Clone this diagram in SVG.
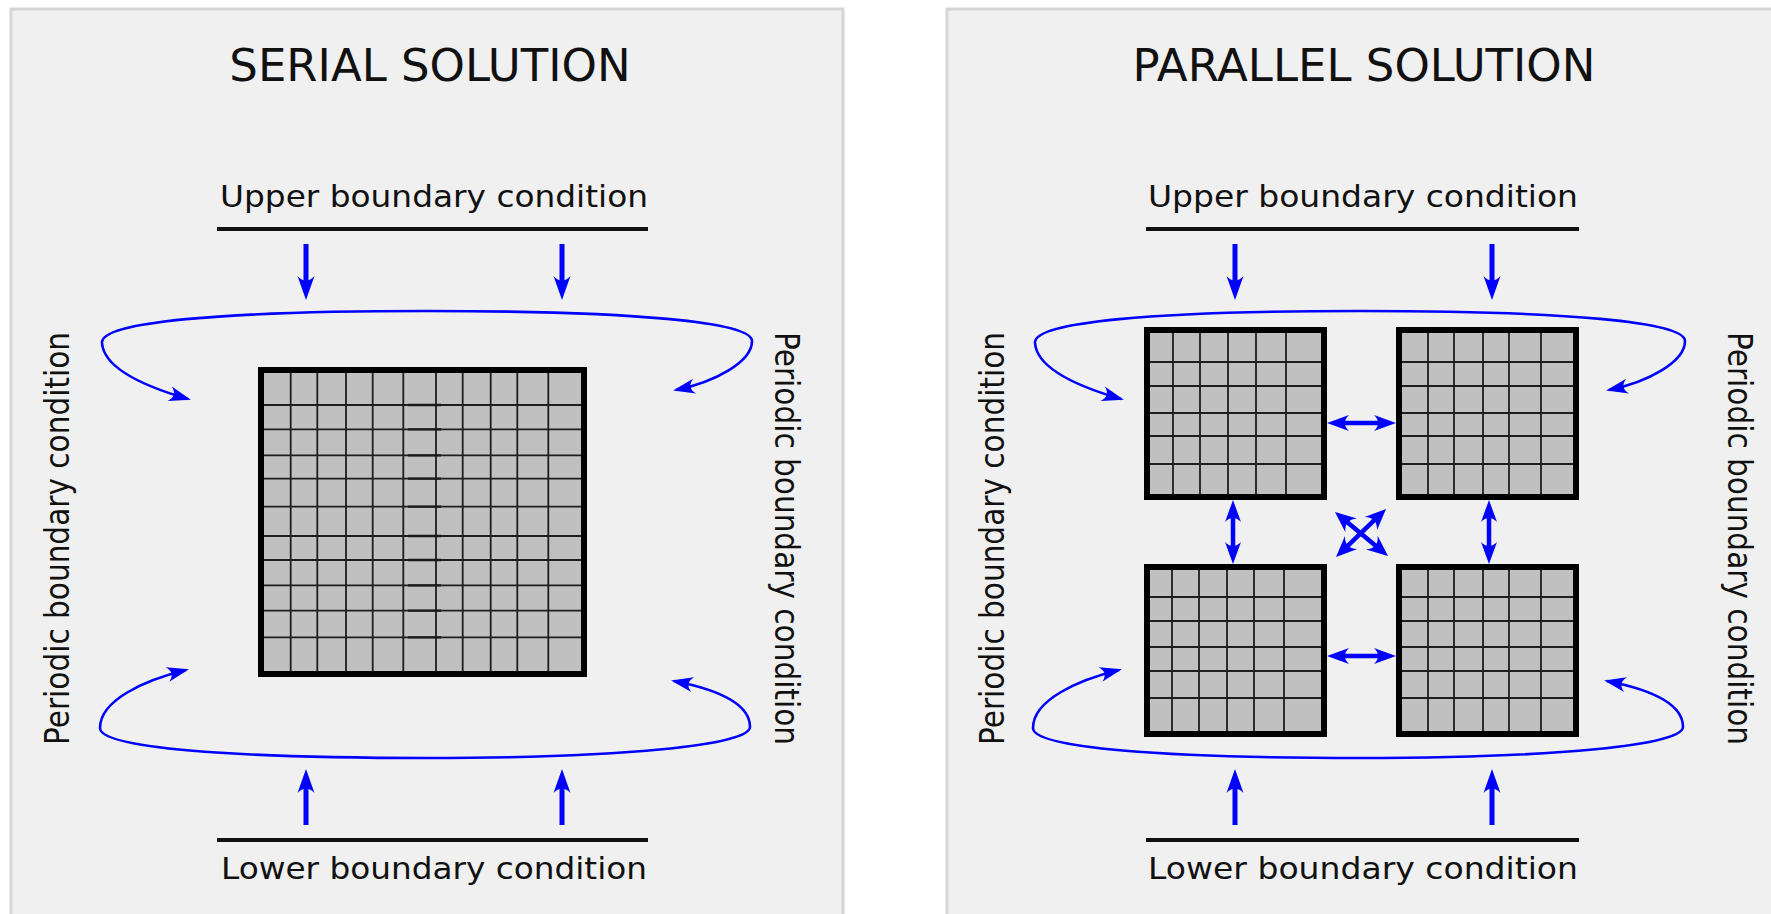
<svg xmlns="http://www.w3.org/2000/svg" width="1771" height="914" viewBox="0 0 1771 914">
<style>
.panel{fill:#f0f0f0;stroke:#d6d6d6;stroke-width:3}
.title{font-family:"DejaVu Sans",sans-serif;font-size:45px;fill:#111;text-anchor:middle}
.label{font-family:"DejaVu Sans",sans-serif;font-size:30px;fill:#111;text-anchor:middle}
.side{font-family:"DejaVu Sans",sans-serif;font-size:33px;fill:#111;text-anchor:middle}
.bar{stroke:#111;stroke-width:4;fill:none}
.cell{fill:#c0c0c0;stroke:#000;stroke-width:6}
.gl{stroke:#1e1e1e;stroke-width:1.8;fill:none}
.dash{stroke:#1a1a1a;stroke-width:2.3;fill:none}
.thick{stroke:#0000ff;stroke-width:5;fill:none;marker-end:url(#ahT)}
.curve{stroke:#0000ff;stroke-width:2.6;fill:none;marker-start:url(#ahC);marker-end:url(#ahC)}
.dbl{stroke:#0000ff;stroke-width:4.5;fill:none;marker-start:url(#ahD);marker-end:url(#ahD)}
.xdbl{stroke:#0000ff;stroke-width:4.5;fill:none;marker-start:url(#ahX);marker-end:url(#ahX)}
</style>
<defs>
<marker id="ahT" markerUnits="userSpaceOnUse" orient="auto-start-reverse" refX="-10" refY="0" markerWidth="30" markerHeight="30" overflow="visible"><path d="M0,0 L-24,-8.5 C-18,-3 -18,3 -24,8.5 Z" fill="#0000ff"/></marker>
<marker id="ahC" markerUnits="userSpaceOnUse" orient="auto-start-reverse" refX="-3" refY="0" markerWidth="30" markerHeight="30" overflow="visible"><path d="M0,0 L-22,-7.5 C-16.5,-2.5 -16.5,2.5 -22,7.5 Z" fill="#0000ff"/></marker>
<marker id="ahD" markerUnits="userSpaceOnUse" orient="auto-start-reverse" refX="-10" refY="0" markerWidth="30" markerHeight="30" overflow="visible"><path d="M0,0 L-22,-8 C-16.5,-3 -16.5,3 -22,8 Z" fill="#0000ff"/></marker>
<marker id="ahX" markerUnits="userSpaceOnUse" orient="auto-start-reverse" refX="-9" refY="0" markerWidth="30" markerHeight="30" overflow="visible"><path d="M0,0 L-21,-9 C-15,-3 -15,3 -21,9 Z" fill="#0000ff"/></marker>
</defs>
<rect x="0" y="0" width="1771" height="914" fill="#ffffff"/>

<g id="serial-panel">
<rect class="panel" x="11" y="9" width="832" height="920"/>
<text class="title" x="430" y="81">SERIAL SOLUTION</text>
</g>
<g id="parallel-panel">
<rect class="panel" x="947" y="9" width="832" height="920"/>
<text class="title" x="1364" y="81">PARALLEL SOLUTION</text>
</g>

<g id="serial-upper">
<text class="label" x="434" y="207" textLength="428" lengthAdjust="spacingAndGlyphs">Upper boundary condition</text>
<path class="bar" d="M217,229 H648"/>
</g>
<g id="serial-lower">
<path class="bar" d="M217,840 H648"/>
<text class="label" x="434" y="879" textLength="426" lengthAdjust="spacingAndGlyphs">Lower boundary condition</text>
</g>
<g id="serial-left-label">
<text class="side" transform="translate(69,538.5) rotate(-90)" textLength="413" lengthAdjust="spacingAndGlyphs">Periodic boundary condition</text>
</g>
<g id="serial-right-label">
<text class="side" transform="translate(775,538.5) rotate(90)" textLength="413" lengthAdjust="spacingAndGlyphs">Periodic boundary condition</text>
</g>

<g id="serial-grid">
<rect class="cell" x="261" y="370" width="323" height="304"/>
<path class="gl" d="M290.7,373 V671 M317.3,373 V671 M346,373 V671 M372.7,373 V671 M403.3,373 V671 M436,373 V671 M462.7,373 V671 M490.7,373 V671 M517.3,373 V671 M548.3,373 V671"/>
<path class="gl" d="M264,405 H581 M264,429.3 H581 M264,455.3 H581 M264,478.7 H581 M264,506.7 H581 M264,536 H581 M264,560 H581 M264,585.3 H581 M264,610.7 H581 M264,637.3 H581"/>
<path class="dash" d="M408,405 H441 M408,429.3 H441 M408,455.3 H441 M408,478.7 H441 M408,506.7 H441 M408,536 H441 M408,560 H441 M408,585.3 H441 M408,610.7 H441 M408,637.3 H441"/>
</g>

<g id="parallel-upper">
<text class="label" x="1363" y="207" textLength="430" lengthAdjust="spacingAndGlyphs">Upper boundary condition</text>
<path class="bar" d="M1146,229 H1579"/>
</g>
<g id="parallel-lower">
<path class="bar" d="M1146,840 H1579"/>
<text class="label" x="1363" y="879" textLength="430" lengthAdjust="spacingAndGlyphs">Lower boundary condition</text>
</g>
<g id="parallel-left-label">
<text class="side" transform="translate(1004,538.5) rotate(-90)" textLength="413" lengthAdjust="spacingAndGlyphs">Periodic boundary condition</text>
</g>
<g id="parallel-right-label">
<text class="side" transform="translate(1728,538.5) rotate(90)" textLength="413" lengthAdjust="spacingAndGlyphs">Periodic boundary condition</text>
</g>

<g id="grid-tl" transform="translate(1144,327)">
<rect class="cell" x="3" y="3" width="177" height="167"/>
<path class="gl" d="M29,6 V167 M56,6 V167 M84,6 V167 M112,6 V167 M142,6 V167 M6,35 H177 M6,59 H177 M6,86 H177 M6,109 H177 M6,137 H177"/>
</g>
<g id="grid-tr" transform="translate(1396,327)">
<rect class="cell" x="3" y="3" width="177" height="167"/>
<path class="gl" d="M32,6 V167 M58,6 V167 M87,6 V167 M113,6 V167 M145,6 V167 M6,35 H177 M6,59 H177 M6,86 H177 M6,109 H177 M6,137 H177"/>
</g>
<g id="grid-bl" transform="translate(1144,564)">
<rect class="cell" x="3" y="3" width="177" height="167"/>
<path class="gl" d="M28,6 V167 M55,6 V167 M83,6 V167 M110,6 V167 M140,6 V167 M6,33 H177 M6,57 H177 M6,83 H177 M6,107 H177 M6,134 H177"/>
</g>
<g id="grid-br" transform="translate(1396,564)">
<rect class="cell" x="3" y="3" width="177" height="167"/>
<path class="gl" d="M32,6 V167 M58,6 V167 M87,6 V167 M113,6 V167 M145,6 V167 M6,33 H177 M6,57 H177 M6,83 H177 M6,107 H177 M6,134 H177"/>
</g>

<g id="connectors">
<path class="thick" d="M306,244 V290"/>
<path class="thick" d="M562,244 V290"/>
<path class="thick" d="M306,825 V779"/>
<path class="thick" d="M562,825 V779"/>
<path class="curve" d="M188,399 C150,388 104,370 102,343 C100,322 220,311 427,311 C634,311 752,322 752,341 C752,362 715,382 676,390"/>
<path class="curve" d="M186,670 C145,680 100,700 100,728 C100,748 230,758 427,758 C624,758 750,745 750,727 C750,705 720,690 674,681"/>

<path class="thick" d="M1235,244 V290"/>
<path class="thick" d="M1492,244 V290"/>
<path class="thick" d="M1235,825 V779"/>
<path class="thick" d="M1492,825 V779"/>
<g transform="translate(933,0)">
<path class="curve" d="M188,399 C150,388 104,370 102,343 C100,322 220,311 427,311 C634,311 752,322 752,341 C752,362 715,382 676,390"/>
<path class="curve" d="M186,670 C145,680 100,700 100,728 C100,748 230,758 427,758 C624,758 750,745 750,727 C750,705 720,690 674,681"/>
</g>
<path class="dbl" d="M1337,423 H1386"/>
<path class="dbl" d="M1337,656 H1386"/>
<path class="dbl" d="M1233,510 V554"/>
<path class="dbl" d="M1489,510 V554"/>
<path class="xdbl" d="M1341.9,517.7 L1381.1,550.3"/>
<path class="xdbl" d="M1379.5,515.2 L1342.5,550.8"/>
</g>
</svg>
